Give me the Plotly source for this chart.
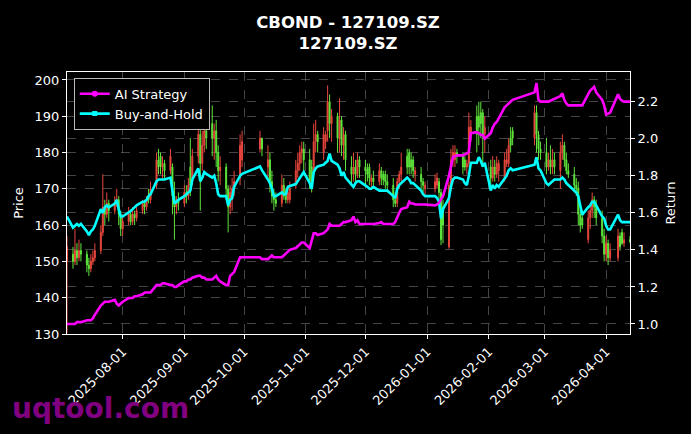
import pandas as pd
import plotly.graph_objects as go

# ---------------- data ----------------
start_date = "2025-07-04"
end_date = "2026-04-13"
market_holidays = ["2025-10-01", "2025-10-02", "2025-10-03", "2025-10-06", "2025-10-07",
                   "2025-10-08", "2026-01-01", "2026-01-02", "2026-02-16", "2026-02-17",
                   "2026-02-18", "2026-02-19", "2026-02-20", "2026-02-23", "2026-04-06"]

open_px = [
    # Jul
    150, 152, 150, 153, 151, 153, 152, 149, 148, 150, 151, 153, 158, 165, 163, 166, 164, 166, 167, 163,
    # Aug
    159, 161, 163, 161, 163, 162, 164, 166, 165, 168, 167, 171, 178, 179, 176, 177, 175, 176, 168, 165, 167,
    # Sep
    166, 169, 168, 176, 173, 179, 185, 177, 182, 186, 188, 184, 186, 180, 175, 176, 170, 165, 167, 170, 173, 178,
    # Oct
    181, 184, 176, 178, 172, 168, 167, 166, 171, 168, 167, 167, 171, 175, 177, 180, 181,
    # Nov
    178, 176, 175, 183, 185, 180, 183, 186, 194, 188, 190, 184, 189, 182, 185, 176, 174, 176, 174, 178,
    # Dec
    176, 175.5, 176, 172, 173, 172, 175, 174, 174, 172, 171, 167, 166, 172, 174, 179, 180, 178, 178, 174, 174, 172, 170,
    # Jan
    170, 171, 172, 169, 165, 154, 171, 178, 178, 180, 179, 178, 176, 177, 185, 190, 190, 191, 191, 185,
    # Feb
    176, 173, 176, 174, 175, 173, 177, 177, 184, 186, 184, 191, 185, 181,
    # Mar
    180, 176, 178, 176, 178, 175, 180, 182, 178, 175, 174, 171, 170, 163, 162, 156, 162, 164, 167, 165, 162, 157,
    # Apr
    152, 155, 151, 151, 157, 158, 155, 156,
]
high_px = [
    157, 154, 159, 155, 156, 155, 153, 151, 152, 153, 155, 160, 174, 167, 169, 167, 168, 170, 168, 164,
    163, 165, 164, 165, 164, 165, 167, 167, 168, 170, 172, 180, 181, 180, 179, 178, 181, 177, 172, 168, 169,
    171, 171, 173, 184, 181, 189, 190, 186, 190, 192, 193, 188, 189, 182, 179, 177, 171, 171, 173, 175, 185, 186,
    186, 184, 182, 180, 175, 170, 169, 174, 173, 170, 171, 172, 178, 180, 182, 183, 183,
    181, 178, 188, 189, 186, 187, 186, 198.5, 196, 192, 191, 195, 190, 187, 186, 179, 180, 178, 180, 179,
    178, 177, 177, 174, 175, 177, 176, 175, 175, 174, 173, 169, 173, 175, 180, 181, 181, 180, 179, 176, 176, 173, 172,
    174, 174.5, 173, 170, 167, 172, 181, 182, 182, 181, 180, 179, 178, 191, 189, 193, 194, 194, 192, 190,
    178, 179, 178, 179, 178, 180, 181, 184, 187, 187, 193, 193, 186, 183,
    184, 180, 182, 181, 180, 183, 185, 183, 180, 177, 176, 173, 172, 165, 164, 164, 166, 169, 168, 167, 164, 159,
    157, 156, 155, 159, 158, 159, 158, 157,
]
low_px = [
    130.3, 148, 149, 149, 150, 150, 147, 146, 147, 149, 150, 152, 157, 160, 162, 161, 163, 165, 160, 157,
    157, 160, 160, 160, 160, 161, 163, 163, 164, 166, 166, 170, 174, 174, 173, 173, 174, 163, 156, 163, 164,
    165, 166, 167, 168, 171, 177, 164, 175, 180, 181, 179, 178, 176, 172, 171, 167, 158, 163, 164, 168, 171, 176,
    180, 179, 173, 169, 166, 164, 165, 165, 167, 166, 166, 166, 170, 173, 175, 177, 175,
    170, 169, 174, 180, 180, 178, 181, 183, 184, 183, 180, 180, 179, 178, 175, 171, 172, 171, 173, 173,
    171, 172, 171, 170, 170, 171, 171, 171, 170, 169, 165, 165, 165, 170, 172, 174, 174, 174, 173, 172, 170, 169, 168,
    169, 170, 167, 154.5, 155, 153.5, 170, 176, 176, 177, 174, 175, 174, 176, 183, 180, 182, 184, 176, 180,
    171, 172, 172, 173, 172, 172, 176, 176, 180, 182, 182, 180, 178, 178,
    174, 175, 174, 174, 174, 170, 178, 176, 174, 173, 169, 168, 160, 158, 159, 155, 159, 162, 162, 160, 155, 150,
    150, 149, 150, 150, 153, 154.5, 154, 155,
]
close_px = [
    154, 150, 153, 151, 153, 152, 149, 148, 150, 151, 153, 158, 165, 163, 166, 164, 166, 167, 163, 159,
    161, 163, 161, 163, 162, 164, 166, 165, 167, 167, 170, 178, 176, 176, 177, 175, 179, 168, 165, 167, 166,
    169, 168, 171, 171, 179, 185, 177, 182, 186, 184, 184, 186, 180, 175, 176, 170, 165, 169, 170, 172, 182, 183,
    184, 181, 178, 172, 168, 167, 166, 171, 168, 167, 169, 170, 175, 177, 180, 181, 178,
    172, 171, 183, 185, 183, 185, 185, 194, 188, 190, 184, 189, 182, 185, 178, 174, 176, 174, 178, 176,
    175, 174, 173, 173, 172, 175, 173, 172.5, 172, 171, 167, 166, 172, 174, 176, 176, 176, 176, 175, 175, 172, 171, 171,
    172, 173, 169, 156, 160, 171, 178, 180, 180, 179, 176, 176, 177, 187, 187, 185, 187, 188, 185, 187,
    173, 176, 174, 177, 177, 178, 178, 182, 182, 184, 191, 185, 181, 180,
    176, 178, 176, 178, 176, 180, 182, 178, 175, 174, 171, 170, 163, 160, 160, 162, 164, 167, 165, 162, 157, 152,
    155, 151, 153, 157, 154, 155, 156, 155.5,
]

ai_strategy = [
    1.00, 1.00, 1.00, 1.01, 1.01, 1.01, 1.02, 1.02, 1.02, 1.03, 1.05, 1.10, 1.11, 1.12, 1.12, 1.12, 1.13, 1.11, 1.10, 1.11,
    1.12, 1.14, 1.14, 1.14, 1.15, 1.15, 1.16, 1.17, 1.17, 1.17, 1.17, 1.21, 1.21, 1.21, 1.22, 1.22, 1.21, 1.21, 1.20, 1.20, 1.21,
    1.23, 1.23, 1.24, 1.24, 1.25, 1.26, 1.26, 1.25, 1.25, 1.24, 1.24, 1.25, 1.26, 1.24, 1.23, 1.21, 1.21, 1.26, 1.27, 1.28, 1.36, 1.36,
    1.36, 1.35, 1.35, 1.36, 1.37, 1.36, 1.36, 1.36, 1.37, 1.38, 1.39, 1.40, 1.41, 1.42, 1.43, 1.44, 1.44,
    1.41, 1.45, 1.49, 1.49, 1.48, 1.49, 1.50, 1.51, 1.54, 1.53, 1.53, 1.53, 1.54, 1.55, 1.55, 1.56, 1.58, 1.55, 1.56, 1.54,
    1.54, 1.54, 1.54, 1.54, 1.54, 1.545, 1.55, 1.54, 1.54, 1.54, 1.54, 1.55, 1.58, 1.60, 1.62, 1.63, 1.66, 1.65, 1.65, 1.645, 1.645, 1.645, 1.645,
    1.64, 1.645, 1.655, 1.67, 1.69, 1.80, 1.86, 1.90, 1.905, 1.91, 1.91, 1.915, 1.92, 1.93, 2.03, 2.035, 2.03, 2.02, 2.02, 2.00,
    2.03, 2.06, 2.08, 2.09, 2.11, 2.17, 2.18, 2.19, 2.205, 2.21, 2.25, 2.30, 2.21, 2.20,
    2.20, 2.20, 2.205, 2.21, 2.215, 2.23, 2.245, 2.21, 2.19, 2.18, 2.18, 2.18, 2.18, 2.18, 2.18, 2.24, 2.26, 2.27, 2.28, 2.25, 2.21, 2.18,
    2.13, 2.135, 2.14, 2.24, 2.215, 2.205, 2.20, 2.20,
]
buy_and_hold = [
    1.58, 1.52, 1.53, 1.54, 1.53, 1.54, 1.50, 1.48, 1.50, 1.51, 1.53, 1.62, 1.60, 1.63, 1.64, 1.63, 1.65, 1.67, 1.62, 1.58,
    1.58, 1.60, 1.61, 1.62, 1.63, 1.64, 1.66, 1.66, 1.67, 1.69, 1.70, 1.77, 1.78, 1.78, 1.78, 1.78, 1.79, 1.72, 1.65, 1.66, 1.67,
    1.69, 1.70, 1.71, 1.72, 1.78, 1.84, 1.77, 1.79, 1.82, 1.81, 1.79, 1.80, 1.76, 1.70, 1.69, 1.69, 1.64, 1.67, 1.68, 1.74, 1.80, 1.81,
    1.85, 1.83, 1.78, 1.76, 1.73, 1.69, 1.69, 1.71, 1.70, 1.70, 1.74, 1.745, 1.755, 1.77, 1.79, 1.80, 1.82,
    1.76, 1.73, 1.82, 1.84, 1.85, 1.86, 1.87, 1.88, 1.92, 1.88, 1.86, 1.84, 1.80, 1.82, 1.79, 1.75, 1.74, 1.76, 1.77, 1.77,
    1.75, 1.74, 1.73, 1.73, 1.74, 1.72, 1.72, 1.72, 1.72, 1.72, 1.69, 1.68, 1.73, 1.75, 1.76, 1.79, 1.78, 1.76, 1.76, 1.75, 1.72, 1.70, 1.69,
    1.69, 1.68, 1.66, 1.57, 1.62, 1.68, 1.74, 1.78, 1.79, 1.79, 1.78, 1.76, 1.75, 1.80, 1.87, 1.87, 1.90, 1.88, 1.85, 1.87,
    1.72, 1.75, 1.73, 1.75, 1.74, 1.79, 1.80, 1.83, 1.84, 1.83, 1.86, 1.90, 1.84, 1.83,
    1.76, 1.75, 1.76, 1.77, 1.78, 1.78, 1.79, 1.78, 1.76, 1.75, 1.72, 1.71, 1.69, 1.63, 1.59, 1.63, 1.64, 1.66, 1.66, 1.64, 1.58, 1.57,
    1.53, 1.51, 1.51, 1.59, 1.56, 1.55, 1.55, 1.55,
]

date_ticks = ["2025-08-01", "2025-09-01", "2025-10-01", "2025-11-01", "2025-12-01",
              "2026-01-01", "2026-02-01", "2026-03-01", "2026-04-01"]
price_ticks = [130, 140, 150, 160, 170, 180, 190, 200]
return_ticks = [1.0, 1.2, 1.4, 1.6, 1.8, 2.0, 2.2]
price_range = [130, 202.2]
return_range = [0.946, 2.36]

# ---------------- figure ----------------
dates = pd.bdate_range(start_date, end_date)
dates = dates[~dates.isin(pd.to_datetime(market_holidays))]

UP_RED = "#e8473d"
DOWN_GREEN = "#5fe63c"
MAGENTA = "#ff00ff"
CYAN = "#00ffff"
GRID = "rgba(150,150,150,0.45)"

fig = go.Figure()
fig.add_trace(go.Candlestick(
    x=dates, open=open_px, high=high_px, low=low_px, close=close_px,
    increasing=dict(line=dict(color=UP_RED, width=1), fillcolor=UP_RED),
    decreasing=dict(line=dict(color=DOWN_GREEN, width=1), fillcolor=DOWN_GREEN),
    showlegend=False, yaxis="y", hoverinfo="skip",
))
fig.add_trace(go.Scatter(x=dates, y=buy_and_hold, mode="lines", yaxis="y2",
                         line=dict(color=CYAN, width=2.6), showlegend=False))
fig.add_trace(go.Scatter(x=dates, y=ai_strategy, mode="lines", yaxis="y2",
                         line=dict(color=MAGENTA, width=2.6), showlegend=False))
# legend entries (line with marker, like the reference legend)
fig.add_trace(go.Scatter(x=[None], y=[None], mode="lines+markers", yaxis="y2", name="AI Strategy",
                         line=dict(color=MAGENTA, width=2.6), marker=dict(symbol="circle", size=6),
                         legendrank=1))
fig.add_trace(go.Scatter(x=[None], y=[None], mode="lines+markers", yaxis="y2", name="Buy-and-Hold",
                         line=dict(color=CYAN, width=2.6), marker=dict(symbol="square", size=5),
                         legendrank=2))

fig.update_layout(
    width=691, height=434,
    paper_bgcolor="black", plot_bgcolor="black",
    margin=dict(l=67, r=61, t=72, b=100),
    font=dict(family="DejaVu Sans", color="white", size=13),
    title=dict(text="<b>CBOND - 127109.SZ</b><br><b>127109.SZ</b>",
               x=348 / 691, xanchor="center", y=1 - 28 / 434, yanchor="middle",
               font=dict(size=16.5, color="white")),
    showlegend=True,
    legend=dict(x=0.012, y=0.978, xanchor="left", yanchor="top",
                bgcolor="black", bordercolor="#bbbbbb", borderwidth=1,
                font=dict(size=13, color="white"), tracegroupgap=0),
    xaxis=dict(type="date", range=[start_date, end_date], rangeslider=dict(visible=False),
               tickvals=date_ticks, tickformat="%Y-%m-%d", tickangle=-45,
               showline=True, linecolor="white", linewidth=1, mirror=True,
               ticks="outside", ticklen=4, tickcolor="white",
               showgrid=True, gridcolor=GRID, griddash="dash", gridwidth=0.7,
               zeroline=False, tickfont=dict(size=13)),
    yaxis=dict(range=price_range, tickvals=price_ticks,
               title=dict(text="Price", standoff=8, font=dict(size=13)),
               showline=True, linecolor="white", linewidth=1, mirror=True,
               ticks="outside", ticklen=4, tickcolor="white",
               showgrid=True, gridcolor=GRID, griddash="dash", gridwidth=0.7,
               zeroline=False, tickfont=dict(size=13)),
    yaxis2=dict(range=return_range, tickvals=return_ticks, tickformat=".1f",
                overlaying="y", side="right",
                title=dict(text="Return", standoff=8, font=dict(size=13)),
                showline=True, linecolor="white", linewidth=1,
                ticks="outside", ticklen=4, tickcolor="white",
                showgrid=True, gridcolor=GRID, griddash="dash", gridwidth=0.7,
                zeroline=False, tickfont=dict(size=13)),
    annotations=[dict(text="<b>uqtool.com</b>", xref="paper", yref="paper",
                      x=(10 - 67) / 563, y=(334 - 408) / 262, xanchor="left", yanchor="middle",
                      showarrow=False, font=dict(size=28, color="#800080", family="DejaVu Sans"))],
)

fig.write_html("out.html")
